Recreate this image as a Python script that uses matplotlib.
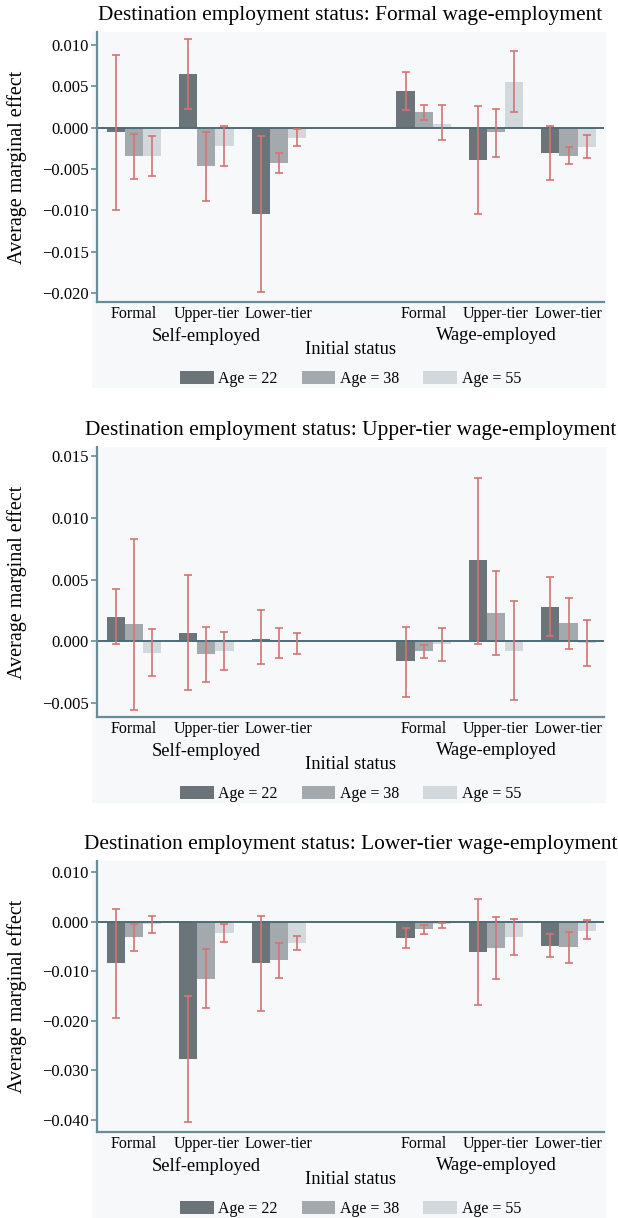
import numpy as np
import matplotlib
matplotlib.use("Agg")
import matplotlib.pyplot as plt
from matplotlib.patches import Patch, Rectangle

plt.rcParams['font.family'] = ['Liberation Serif', 'DejaVu Serif']

categories = ["Formal", "Upper-tier", "Lower-tier", "Formal", "Upper-tier", "Lower-tier"]
groups = ["Self-employed", "Wage-employed"]
ages = ["Age = 22", "Age = 38", "Age = 55"]
titles = ["Destination employment status: Formal wage-employment",
          "Destination employment status: Upper-tier wage-employment",
          "Destination employment status: Lower-tier wage-employment"]

# Panel 1: Formal wage-employment
p1_age22 = [-0.0005, 0.0065, -0.0104, 0.0044, -0.0039, -0.0030]
p1_age22_lo = [-0.0099, 0.0023, -0.0199, 0.0021, -0.0105, -0.0063]
p1_age22_hi = [0.0088, 0.0107, -0.0010, 0.0067, 0.0026, 0.0002]
p1_age38 = [-0.0034, -0.0046, -0.0043, 0.0019, -0.0005, -0.0034]
p1_age38_lo = [-0.0062, -0.0089, -0.0055, 0.0010, -0.0035, -0.0044]
p1_age38_hi = [-0.0007, -0.0005, -0.0031, 0.0028, 0.0023, -0.0023]
p1_age55 = [-0.0034, -0.0022, -0.0012, 0.0005, 0.0056, -0.0023]
p1_age55_lo = [-0.0058, -0.0046, -0.0022, -0.0015, 0.0019, -0.0037]
p1_age55_hi = [-0.0010, 0.0002, -0.0001, 0.0027, 0.0093, -0.0009]

# Panel 2: Upper-tier wage-employment
p2_age22 = [0.0020, 0.0007, 0.0002, -0.0016, 0.0066, 0.0028]
p2_age22_lo = [-0.0002, -0.0039, -0.0018, -0.0045, -0.0002, 0.0004]
p2_age22_hi = [0.0042, 0.0054, 0.0025, 0.0012, 0.0132, 0.0052]
p2_age38 = [0.0014, -0.0010, 0.0000, -0.0008, 0.0023, 0.0015]
p2_age38_lo = [-0.0055, -0.0033, -0.0013, -0.0013, -0.0011, -0.0006]
p2_age38_hi = [0.0083, 0.0012, 0.0011, -0.0003, 0.0057, 0.0035]
p2_age55 = [-0.0009, -0.0008, 0.0000, -0.0002, -0.0008, -0.0001]
p2_age55_lo = [-0.0028, -0.0023, -0.0010, -0.0016, -0.0047, -0.0020]
p2_age55_hi = [0.0010, 0.0008, 0.0007, 0.0011, 0.0033, 0.0017]

# Panel 3: Lower-tier wage-employment
p3_age22 = [-0.0084, -0.0277, -0.0084, -0.0032, -0.0061, -0.0048]
p3_age22_lo = [-0.0194, -0.0404, -0.0180, -0.0053, -0.0168, -0.0071]
p3_age22_hi = [0.0025, -0.0149, 0.0011, -0.0012, 0.0046, -0.0024]
p3_age38 = [-0.0031, -0.0116, -0.0078, -0.0015, -0.0053, -0.0051]
p3_age38_lo = [-0.0060, -0.0175, -0.0114, -0.0025, -0.0116, -0.0083]
p3_age38_hi = [-0.0005, -0.0055, -0.0043, -0.0007, 0.0010, -0.0020]
p3_age55 = [-0.0005, -0.0022, -0.0042, -0.0005, -0.0031, -0.0018]
p3_age55_lo = [-0.0022, -0.0040, -0.0056, -0.0012, -0.0068, -0.0035]
p3_age55_hi = [0.0011, -0.0005, -0.0028, -0.0003, 0.0005, 0.0003]

yticks_p1 = [-0.020, -0.015, -0.010, -0.005, 0.000, 0.005, 0.010]
yticks_p2 = [-0.005, 0.000, 0.005, 0.010, 0.015]
yticks_p3 = [-0.040, -0.030, -0.020, -0.010, 0.000, 0.010]

panels = [
    ([p1_age22, p1_age38, p1_age55], [p1_age22_lo, p1_age38_lo, p1_age55_lo],
     [p1_age22_hi, p1_age38_hi, p1_age55_hi], yticks_p1, (-0.0211, 0.0116)),
    ([p2_age22, p2_age38, p2_age55], [p2_age22_lo, p2_age38_lo, p2_age55_lo],
     [p2_age22_hi, p2_age38_hi, p2_age55_hi], yticks_p2, (-0.0061, 0.0157)),
    ([p3_age22, p3_age38, p3_age55], [p3_age22_lo, p3_age38_lo, p3_age55_lo],
     [p3_age22_hi, p3_age38_hi, p3_age55_hi], yticks_p3, (-0.0425, 0.0123)),
]

W, H = 618, 1218
fig = plt.figure(figsize=(W / 100, H / 100), dpi=100)
fig.patch.set_facecolor('white')

bar_colors = ['#6b7579', '#a3a9ac', '#d2d8db']
err_color = '#d27475'
spine_color = '#6a8b98'
zero_color = '#4e6b78'
panel_bg = '#f7f8fa'

ax_left, ax_right = 97, 604
ax_tops = [32, 447, 861]
ax_bottoms = [302, 717, 1132]

pos = np.array([i + (1 if i >= 3 else 0) for i in range(len(categories))], dtype=float)
bw = 0.25
offsets = [-bw, 0.0, bw]
PX = 1 / 1.389  # px -> points

for k, (ests, los, his, yticks, ylim) in enumerate(panels):
    top, bot = ax_tops[k], ax_bottoms[k]
    fig.patches.append(Rectangle((92 / W, 1 - (bot + 86) / H), (606 - 92) / W, (bot + 86 - top) / H,
                                 transform=fig.transFigure, facecolor=panel_bg, edgecolor='none', zorder=-5))
    ax = fig.add_axes([ax_left / W, 1 - bot / H, (ax_right - ax_left) / W, (bot - top) / H])
    ax.set_facecolor(panel_bg)
    for j in range(3):
        est = np.array(ests[j])
        lo = np.array(los[j])
        hi = np.array(his[j])
        x = pos + offsets[j]
        ax.bar(x, est, width=bw, color=bar_colors[j], edgecolor='none', zorder=2)
        ax.errorbar(x, (lo + hi) / 2, yerr=(hi - lo) / 2, fmt='none', ecolor=err_color,
                    elinewidth=1.2, capsize=2.6, capthick=1.2, zorder=3)
    ax.axhline(0, color=zero_color, lw=1.4, zorder=2.5)
    ax.set_xlim(-0.51, 6.49)
    ax.set_ylim(*ylim)
    ax.set_yticks(yticks)
    ax.set_yticklabels([f"{v:.3f}".replace('-', '\u2212') for v in yticks], fontsize=12)
    ax.set_xticks(pos)
    ax.set_xticklabels(categories, fontsize=11.5)
    ax.tick_params(axis='x', length=0, pad=3)
    ax.tick_params(axis='y', length=4, width=1.2, color=spine_color, pad=2)
    for s in ['top', 'right']:
        ax.spines[s].set_visible(False)
    for s in ['left', 'bottom']:
        ax.spines[s].set_color(spine_color)
        ax.spines[s].set_linewidth(1.6)
    # y-axis label
    fig.text(17 / W, 1 - (top + bot) / 2 / H, "Average marginal effect", rotation=90,
             ha='center', va='center', fontsize=14.5)
    # title
    ax.annotate(titles[k], xy=(0.5, 1), xycoords='axes fraction', xytext=(0, 17 * PX),
                textcoords='offset points', ha='center', va='center', fontsize=15.4)
    # group labels
    for g, gname in enumerate(groups):
        gx = pos[1 + 3 * g]
        ax.annotate(gname, xy=(gx, 0), xycoords=('data', 'axes fraction'), xytext=(0, -34 * PX),
                    textcoords='offset points', ha='center', va='center', fontsize=13.3)
    ax.annotate("Initial status", xy=(0.5, 0), xycoords='axes fraction', xytext=(0, -48 * PX),
                textcoords='offset points', ha='center', va='center', fontsize=13.3)
    handles = [Patch(facecolor=bar_colors[j], edgecolor='none', label=ages[j]) for j in range(3)]
    ax.legend(handles=handles, loc='center', bbox_to_anchor=(0.5, -77 / (bot - top)), ncol=3,
              frameon=False, fontsize=11.5, handlelength=2.1, handleheight=0.8,
              handletextpad=0.3, columnspacing=1.5, borderpad=0)

fig.savefig("out.png", dpi=100)
